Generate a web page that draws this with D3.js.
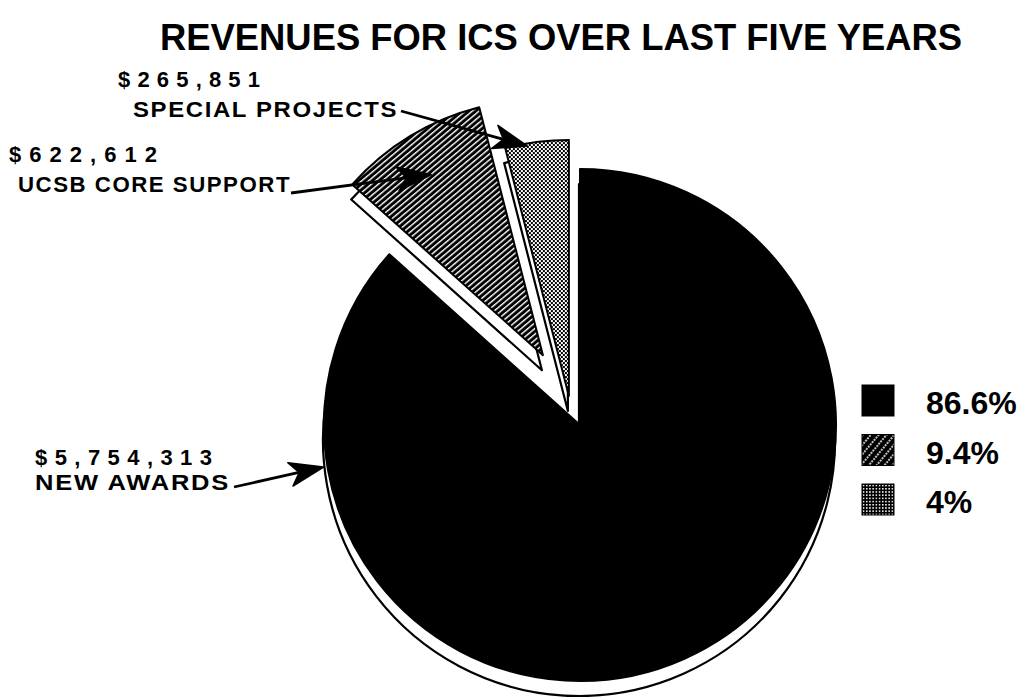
<!DOCTYPE html>
<html>
<head>
<meta charset="utf-8">
<script src="https://cdn.jsdelivr.net/npm/d3@7"></script>
<style>
  body { margin: 0; background: #fff; }
  svg { display: block; font-family: "Liberation Sans", Arial, sans-serif; }
</style>
</head>
<body>
<div id="vis"></div>
<script>
// Data
const CATEGORIES = ["NEW AWARDS", "UCSB CORE SUPPORT", "SPECIAL PROJECTS"];
const VALUES = [5754313, 622612, 265851];
const AMOUNT_LABELS = ["$5,754,313", "$622,612", "$265,851"];
const PERCENT_LABELS = ["86.6%", "9.4%", "4%"];
const TITLE = "REVENUES FOR ICS OVER LAST FIVE YEARS";

// Frame
const FRAME_WIDTH = 1024;
const FRAME_HEIGHT = 697;
const CENTER = {x: 580, y: 425};
const RADIUS = 256;
const DEPTH = {x: -1, y: 15};         // 3d side offset
const EXPLODE = [0, 79, 31];           // distance each slice is pulled out
const EXPLODE_DIR = [0, 332, 339];     // direction (deg, clockwise from top)
const FILLS = ["#000", "url(#hatch)", "url(#checker)"];
const LEGEND_FILLS = ["#000", "url(#hatchLegend)", "url(#dotLegend)"];

const FRAME = d3.select("#vis")
                .append("svg")
                  .attr("width", FRAME_WIDTH)
                  .attr("height", FRAME_HEIGHT);

// patterns
const defs = FRAME.append("defs");

const hatch = defs.append("pattern")
    .attr("id", "hatch")
    .attr("patternUnits", "userSpaceOnUse")
    .attr("width", 4.4).attr("height", 4.4)
    .attr("patternTransform", "rotate(-40)");
hatch.append("rect").attr("width", 4.4).attr("height", 4.4).attr("fill", "#000");
hatch.append("rect").attr("width", 4.4).attr("height", 1.4).attr("fill", "#fff");

const checker = defs.append("pattern")
    .attr("id", "checker")
    .attr("patternUnits", "userSpaceOnUse")
    .attr("width", 4).attr("height", 4);
checker.append("rect").attr("width", 4).attr("height", 4).attr("fill", "#fff");
checker.append("rect").attr("width", 2).attr("height", 2).attr("fill", "#000");
checker.append("rect").attr("x", 2).attr("y", 2).attr("width", 2).attr("height", 2).attr("fill", "#000");

const hatchLegend = defs.append("pattern")
    .attr("id", "hatchLegend")
    .attr("patternUnits", "userSpaceOnUse")
    .attr("width", 6).attr("height", 6)
    .attr("patternTransform", "rotate(-50)");
hatchLegend.append("rect").attr("width", 6).attr("height", 6).attr("fill", "#000");
hatchLegend.append("line")
    .attr("x1", 0).attr("x2", 6).attr("y1", 1).attr("y2", 1)
    .attr("stroke", "#fff").attr("stroke-width", 1.3)
    .attr("stroke-dasharray", "2,1");

const dotLegend = defs.append("pattern")
    .attr("id", "dotLegend")
    .attr("patternUnits", "userSpaceOnUse")
    .attr("width", 3.2).attr("height", 3.2);
dotLegend.append("rect").attr("width", 3.2).attr("height", 3.2).attr("fill", "#000");
dotLegend.append("rect").attr("x", 0.8).attr("y", 0.8).attr("width", 1.5).attr("height", 1.5).attr("fill", "#fff");

// helpers
const rad = (deg) => deg * Math.PI / 180;
function polar(angle, r) {
  return [r * Math.sin(angle), -r * Math.cos(angle)];
}

// pie
const pie = d3.pie().sort(null).value(d => d);
const arcs = pie(VALUES);
const arc = d3.arc().innerRadius(0).outerRadius(RADIUS);

// exploded offset per slice
const offsets = arcs.map((d, i) => polar(rad(EXPLODE_DIR[i]), EXPLODE[i]));

const slices = FRAME.selectAll(".slice")
  .data(arcs)
  .enter()
  .append("g")
    .attr("class", "slice")
    .attr("transform", (d, i) => "translate(" + (CENTER.x + offsets[i][0]) +
          "," + (CENTER.y + offsets[i][1]) + ")");

// side / depth
slices.append("path")
    .attr("d", arc)
    .attr("transform", "translate(" + DEPTH.x + "," + DEPTH.y + ")")
    .attr("fill", "#fff")
    .attr("stroke", "#000")
    .attr("stroke-width", 2.2)
    .attr("stroke-linejoin", "round");

// top face
slices.append("path")
    .attr("d", arc)
    .attr("fill", (d, i) => FILLS[i])
    .attr("stroke", "#000")
    .attr("stroke-width", 2)
    .attr("stroke-linejoin", "round");

// title
FRAME.append("text")
    .attr("x", 160)
    .attr("y", 50)
    .attr("textLength", 802)
    .attr("lengthAdjust", "spacingAndGlyphs")
    .attr("font-family", "'Liberation Sans Narrow', 'Liberation Sans', Arial, sans-serif")
    .attr("font-size", 37)
    .attr("font-weight", "bold")
    .text(TITLE);

// annotations: label lines, and where the arrow lands on its slice
const ANNOTATIONS = [
  {slice: 0, angle: 260.7, rf: 1.015, amount: {x: 35, y: 465, w: 177},
   name: {x: 35, y: 490, w: 195}, from: [234, 487]},
  {slice: 1, angle: 328.3, rf: 0.83, amount: {x: 9, y: 162, w: 148},
   name: {x: 18, y: 192, w: 273}, from: [291, 193]},
  {slice: 2, angle: 350.6, rf: 0.99, amount: {x: 118, y: 87, w: 142},
   name: {x: 133, y: 117, w: 265}, from: [401, 111]}
];

const ann = FRAME.selectAll(".ann")
  .data(ANNOTATIONS)
  .enter()
  .append("g")
    .attr("class", "ann");

ann.append("text")
    .attr("x", d => d.amount.x)
    .attr("y", d => d.amount.y)
    .attr("textLength", d => d.amount.w)
    .attr("lengthAdjust", "spacing")
    .attr("font-size", 22)
    .attr("font-weight", "bold")
    .text(d => AMOUNT_LABELS[d.slice]);

ann.append("text")
    .attr("x", d => d.name.x)
    .attr("y", d => d.name.y)
    .attr("textLength", d => d.name.w)
    .attr("lengthAdjust", "spacingAndGlyphs")
    .attr("font-size", 22)
    .attr("font-weight", "bold")
    .attr("letter-spacing", 1.5)
    .text(d => CATEGORIES[d.slice]);

function tipOf(d) {
  const p = polar(rad(d.angle), RADIUS * d.rf);
  const o = offsets[d.slice];
  return [CENTER.x + o[0] + p[0], CENTER.y + o[1] + p[1]];
}

function angleOf(d) {
  const t = tipOf(d);
  return Math.atan2(t[1] - d.from[1], t[0] - d.from[0]);
}

ann.append("line")
    .attr("x1", d => d.from[0])
    .attr("y1", d => d.from[1])
    .attr("x2", d => tipOf(d)[0] - 24 * Math.cos(angleOf(d)))
    .attr("y2", d => tipOf(d)[1] - 24 * Math.sin(angleOf(d)))
    .attr("stroke", "#000")
    .attr("stroke-width", 2.8);

ann.append("path")
    .attr("d", "M0,0 L-34,-12 L-25,0 L-34,12 Z")
    .attr("fill", "#000")
    .attr("stroke", "#000")
    .attr("stroke-width", 1.5)
    .attr("stroke-linejoin", "round")
    .attr("transform", d => {
      const t = tipOf(d);
      return "translate(" + t[0] + "," + t[1] + ") rotate(" + (angleOf(d) * 180 / Math.PI) + ")";
    });

// legend
const legend = FRAME.selectAll(".legend")
  .data(PERCENT_LABELS)
  .enter()
  .append("g")
    .attr("class", "legend")
    .attr("transform", (d, i) => "translate(862," + (385 + i * 49.5) + ")");

legend.append("rect")
    .attr("width", 32)
    .attr("height", 31)
    .attr("fill", (d, i) => LEGEND_FILLS[i])
    .attr("stroke", "#000")
    .attr("stroke-width", 1);

legend.append("text")
    .attr("x", 64)
    .attr("y", 29)
    .attr("font-size", 32)
    .attr("font-weight", "bold")
    .text(d => d);
</script>
</body>
</html>
